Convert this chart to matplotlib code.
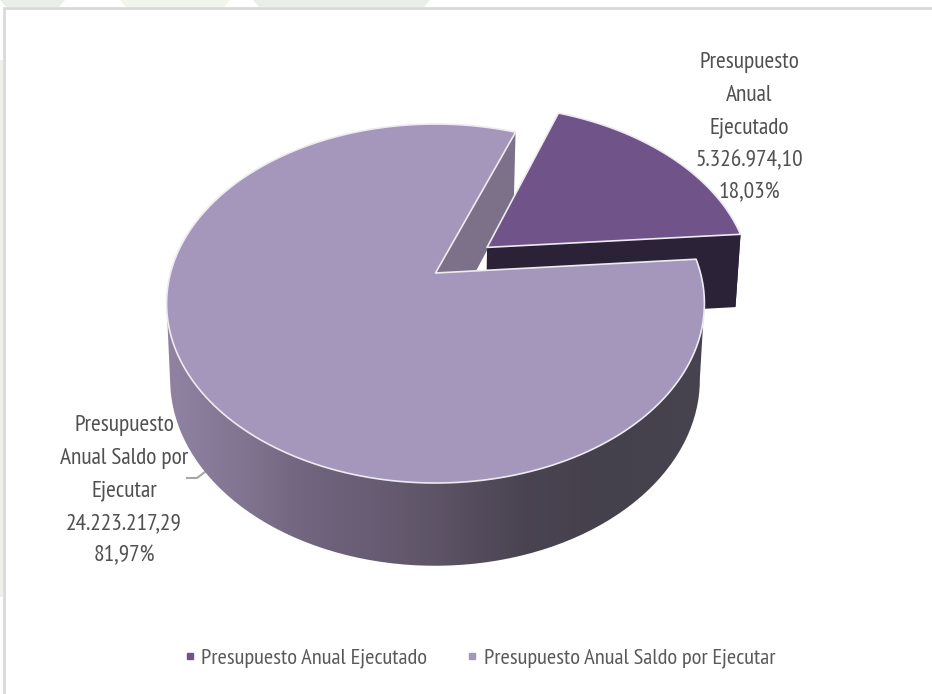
import numpy as np
import matplotlib
matplotlib.use('Agg')
import matplotlib.pyplot as plt
from matplotlib.colors import LinearSegmentedColormap
from matplotlib.lines import Line2D
from matplotlib.path import Path
from matplotlib.patches import PathPatch

# datos
categorias = ['Presupuesto Anual Ejecutado', 'Presupuesto Anual Saldo por Ejecutar']
valores = [5326974.10, 24223217.29]
etiquetas = ['Presupuesto\nAnual\nEjecutado', 'Presupuesto\nAnual Saldo por\nEjecutar']

plt.rcParams['font.family'] = ['PT Sans Narrow', 'Liberation Sans', 'DejaVu Sans']

# perspectiva del pastel 3D
cx, cy = 435.5, 273
a, b, k = 265, 174.3, 0.17
prof, kp = 74.5, 0.1
enc, corre = 0.985, -0.5
inicio = 20.5
explota = 0.25


def proyecta(u, v, abajo=False):
    u, v = np.asarray(u, float), np.asarray(v, float)
    x = a * u / (1 + k * v)
    y = -b * v / (1 + k * v)
    if abajo:
        x = x * enc + corre
        y = y + prof / (1 + kp * v)
    return cx + x, cy + y


def arco(t1, t2, du=0, dv=0, abajo=False):
    t = np.radians(np.linspace(t1, t2, 200))
    return proyecta(du + np.sin(t), dv + np.cos(t), abajo)


def tapa(t1, t2, du=0, dv=0):
    x, y = arco(t1, t2, du, dv)
    x0, y0 = proyecta(du, dv)
    return np.r_[x0, x], np.r_[y0, y]


def pared(x1, y1, x2, y2):
    return np.r_[x1, x2[::-1]], np.r_[y1, y2[::-1]]


total = sum(valores)
pct = [v / total * 100 for v in valores]
t1 = inicio
t2 = inicio + valores[0] / total * 360
t3 = inicio + 360
med = np.radians((t1 + t2) / 2)
du, dv = explota * np.sin(med), explota * np.cos(med)

fig = plt.figure(figsize=(9.32, 6.94), dpi=100)
ax = fig.add_axes([0, 0, 1, 1])
ax.set_xlim(0, 932)
ax.set_ylim(694, 0)
ax.axis('off')

# fondo: marca de agua y marco
for x1, x2, col in [(0, 65, '#e9efe8'), (120, 230, '#f1f5ec'), (253, 430, '#e9efe8')]:
    ax.fill([x1, x2, x2 - 6, x1 + 6], [0, 0, 7, 7], color=col, lw=0)
ax.fill([0, 3, 3, 0], [60, 60, 597, 597], color='#edf1ea', lw=0)
ax.plot([4, 4, 932], [694, 8, 8], color='#d9d9d9', lw=2, solid_joinstyle='miter')

# pared del corte de la rebanada grande
x0, y0 = proyecta(0, 0)
x0b, y0b = proyecta(0, 0, True)
xc, yc = arco(t3, t3)
xcb, ycb = arco(t3, t3, abajo=True)
ax.fill([x0, xc[0], xcb[0], x0b], [y0, yc[0], ycb[0], y0b], color='#7d7189', lw=0)

# rebanada separada
xa, ya = proyecta(du, dv)
xab, yab = proyecta(du, dv, True)
xr, yr = arco(t1, t2, du, dv)
xrb, yrb = arco(t1, t2, du, dv, True)
ax.fill(*pared(xr, yr, xrb, yrb), color='#2b2238', lw=0)
ax.fill([xa, xr[-1], xrb[-1], xab], [ya, yr[-1], yrb[-1], yab], color='#2b2238', lw=0)
xt, yt = tapa(t1, t2, du, dv)
ax.fill(xt, yt, facecolor='#6f5389', edgecolor='#eeebf0', lw=1.2, joinstyle='round')

# pared exterior con degradado, de extremo a extremo de la silueta
xg, yg = arco(t2, 300)
xgb, ygb = arco(t2, 300, abajo=True)
i1, i2 = np.argmax(xg), np.argmin(xg) + 1
xp, yp = pared(xg[i1:i2], yg[i1:i2], xgb[i1:i2], ygb[i1:i2])
colores = LinearSegmentedColormap.from_list(
    'lado', [(0, '#9284a4'), (0.156, '#807490'), (0.25, '#726681'), (0.49, '#5f5568'),
             (0.66, '#4a4452'), (0.79, '#45414c'), (1, '#47434f')])
img = ax.imshow(np.linspace(0, 1, 256).reshape(1, -1), cmap=colores, aspect='auto',
                extent=[160, 710, 600, 200], zorder=1.5)
borde = PathPatch(Path(np.c_[xp, yp]), transform=ax.transData, fc='none', ec='none')
ax.add_patch(borde)
img.set_clip_path(borde)
ax.set_xlim(0, 932)
ax.set_ylim(694, 0)

# tapa de la rebanada grande
xt, yt = tapa(t2, t3)
ax.fill(xt, yt, facecolor='#a597bb', edgecolor='#eeebf0', lw=1.2, joinstyle='round', zorder=2)

# etiquetas
for i, (tx, ty) in enumerate([(749, 128), (124, 491)]):
    valor = f'{valores[i]:,.2f}'.replace(',', ' ').replace('.', ',').replace(' ', '.')
    por = f'{pct[i]:.2f}'.replace('.', ',') + '%'
    ax.text(tx, ty, etiquetas[i] + '\n' + valor + '\n' + por, ha='center', va='center',
            fontsize=16.8, color='#505050', linespacing=1.72, zorder=3)
ax.plot([187, 197, 205], [478, 478, 472], color='#a6a6a6', lw=1.5, zorder=1.4)

# leyenda
marcas = [Line2D([], [], ls='none', marker='s', ms=5, color=c) for c in ['#6f5389', '#a597bb']]
ax.legend(marcas, categorias, ncol=2, frameon=False, loc='center', bbox_to_anchor=(477, 658),
          bbox_transform=ax.transData, fontsize=16.2, labelcolor='#595959',
          handletextpad=0, columnspacing=1.5, handlelength=1)

plt.savefig('out.png', dpi=100)
